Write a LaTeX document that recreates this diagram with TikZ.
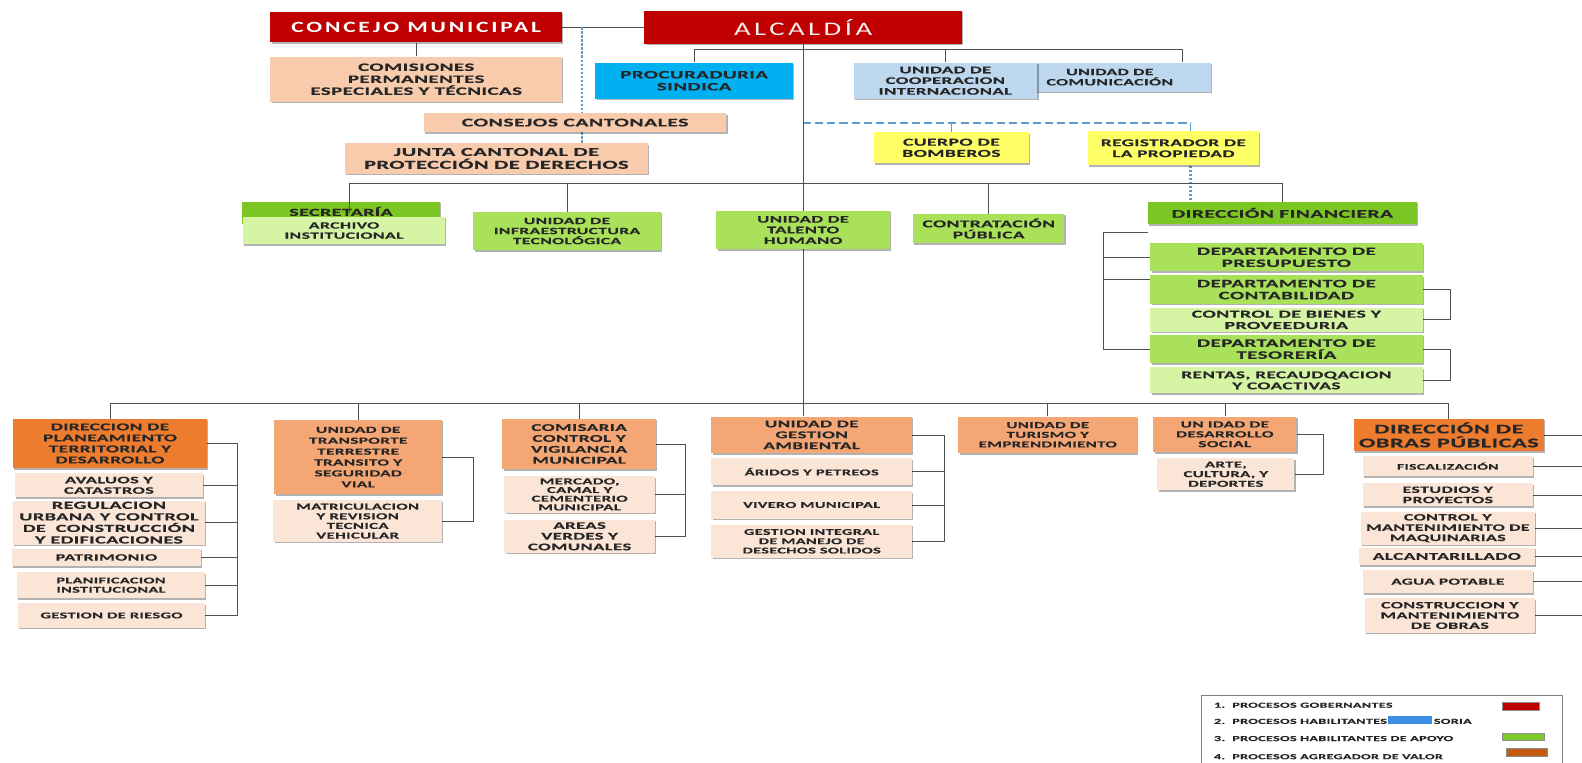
\documentclass[tikz,border=0pt]{standalone}
\usepackage{fontspec}
\usepackage{tikz}
\usetikzlibrary{shadows, backgrounds}

\newfontfamily\orgfont{Carlito}[FakeStretch=1.85, LetterSpace=4, FakeBold=0.5]
\newfontfamily\titlefont{Carlito}[FakeStretch=1.5, LetterSpace=18]

\definecolor{govred}{HTML}{C00000}
\definecolor{peach}{HTML}{F8CBAD}
\definecolor{advblue}{HTML}{00B0F0}
\definecolor{paleblue}{HTML}{BDD7EE}
\definecolor{fireyellow}{HTML}{FFFF66}
\definecolor{darkgreen}{HTML}{7CC623}
\definecolor{midgreen}{HTML}{A9E25A}
\definecolor{palegreen}{HTML}{D5F5A5}
\definecolor{deeporange}{HTML}{EE7C2F}
\definecolor{midorange}{HTML}{F4A775}
\definecolor{paleorange}{HTML}{FBE5D6}
\definecolor{linegray}{HTML}{505050}
\definecolor{dashblue}{HTML}{5B9BD5}
\definecolor{swblue}{HTML}{3D8FE3}
\definecolor{swgreen}{HTML}{7CCB2A}
\definecolor{sworange}{HTML}{C55A11}

\tikzset{
  box/.style={fill=#1, text=black!85, align=center, inner sep=1pt,
    drop shadow={shadow xshift=1.3pt, shadow yshift=-1.5pt, opacity=0.3, fill=black}},
  txt/.style={font=\orgfont\bfseries\fontsize{#1}{\dimexpr #1pt*106/100\relax}\selectfont},
  sz/.style 2 args={minimum width=#1pt, minimum height=#2pt},
  conn/.style={draw=linegray, line width=0.7pt},
  dashline/.style={draw=dashblue, line width=1.6pt, dash pattern=on 8pt off 4pt},
  dotline/.style={draw=dashblue, line width=2.4pt, dash pattern=on 2.5pt off 1.5pt},
  legtext/.style={anchor=west, inner sep=0pt, text=black!85,
    font=\orgfont\bfseries\fontsize{7.6}{8}\selectfont},
  swatch/.style={fill=#1, draw=black!45, line width=0.6pt, inner sep=0pt}
}

\begin{document}
\begin{tikzpicture}[x=1pt, y=-1pt]
    \useasboundingbox (0,0) rectangle (1568,756);

    % Governing level
    \node[box=govred, text=white, font=\titlefont\bfseries\fontsize{15.5}{17}\selectfont, sz={289}{30}] (concejo) at (412.5,27) {CONCEJO MUNICIPAL};
    \node[box=govred, text=gray!12, font=\titlefont\fontsize{19}{22}\selectfont, sz={315}{33}] (alcaldia) at (796,27) {ALCALDÍA};
    \node[box=peach, txt=11.2, sz={289}{45}] (comisiones) at (412.5,78.5) {COMISIONES\\PERMANENTES\\ESPECIALES Y TÉCNICAS};
    \node[box=advblue, txt=11.2, sz={196}{36}] (procuraduria) at (688,80) {PROCURADURIA\\SINDICA};
    \node[box=paleblue, txt=9.5, sz={200}{29}] (comunicacion) at (1100,76.5) {UNIDAD DE\\COMUNICACIÓN};
    \node[box=paleblue, txt=10, sz={182}{36}] (cooperacion) at (937,80) {UNIDAD DE\\COOPERACION\\INTERNACIONAL};
    \node[box=peach, txt=11.6, sz={300}{19}] (consejos) at (570,121.5) {CONSEJOS CANTONALES};
    \node[box=peach, txt=12, sz={300}{30}] (junta) at (492,157) {JUNTA CANTONAL DE\\PROTECCIÓN DE DERECHOS};
    \node[box=fireyellow, txt=10.5, sz={154}{31}] (cuerpo) at (943,146.5) {CUERPO DE\\BOMBEROS};
    \node[box=fireyellow, txt=10.3, sz={170}{34}] (registrador) at (1163,147) {REGISTRADOR DE\\LA PROPIEDAD};

    % Support level
    \node[box=darkgreen, txt=10.7, sz={196}{22}, text depth=3pt] (secretaria) at (338,211) {SECRETARÍA};
    \node[box=palegreen, txt=9.5, sz={200}{27}] (archivo) at (341,228.5) {ARCHIVO\\INSTITUCIONAL};
    \node[box=midgreen, txt=9.4, sz={186}{38}] (infra) at (562,229) {UNIDAD DE\\INFRAESTRUCTURA\\TECNOLÓGICA};
    \node[box=midgreen, txt=10, sz={172}{38}] (talento) at (796,228) {UNIDAD DE\\TALENTO\\HUMANO};
    \node[box=midgreen, txt=10.4, sz={150}{29}] (contratacion) at (980,226.5) {CONTRATACIÓN\\PÚBLICA};
    \node[box=darkgreen, txt=11.5, sz={266}{22}] (finan) at (1271,211) {DIRECCIÓN FINANCIERA};
    \node[box=midgreen, txt=11.2, sz={270}{28}] (presupuesto) at (1275,255) {DEPARTAMENTO DE\\PRESUPUESTO};
    \node[box=midgreen, txt=11.2, sz={270}{28}] (contabilidad) at (1275,287) {DEPARTAMENTO DE\\CONTABILIDAD};
    \node[box=palegreen, txt=10.6, sz={270}{24}] (bienes) at (1275,317) {CONTROL DE BIENES Y\\PROVEEDURIA};
    \node[box=midgreen, txt=11.2, sz={270}{28}] (tesoreria) at (1275,346) {DEPARTAMENTO DE\\TESORERÍA};
    \node[box=palegreen, txt=10.3, sz={270}{26}] (rentas) at (1275,377) {RENTAS, RECAUDQACION\\Y COACTIVAS};

    % Value adding level
    \node[box=deeporange, txt=10.3, sz={192}{49}] (planeamiento) at (109,439.5) {DIRECCION DE\\PLANEAMIENTO\\TERRITORIAL Y\\DESARROLLO};
    \node[box=paleorange, txt=9.8, sz={186}{24}] (avaluos) at (108,481) {AVALUOS Y\\CATASTROS};
    \node[box=paleorange, txt=10.8, sz={190}{42}] (regulacion) at (108,518) {REGULACION\\URBANA Y CONTROL\\DE\ \ CONSTRUCCIÓN\\Y EDIFICACIONES};
    \node[box=paleorange, txt=9.6, sz={187}{17}] (patrimonio) at (105.5,552.5) {PATRIMONIO};
    \node[box=paleorange, txt=8.7, sz={186}{26}] (planificacion) at (110,580) {PLANIFICACION\\INSTITUCIONAL};
    \node[box=paleorange, txt=8.8, sz={185}{24}] (riesgo) at (110.5,610) {GESTION DE RIESGO};

    \node[box=midorange, font=\orgfont\bfseries\fontsize{9.2}{10.8}\selectfont, sz={166}{74}] (transporte) at (355,453) {UNIDAD DE\\TRANSPORTE\\TERRESTRE\\TRANSITO Y\\SEGURIDAD\\VIAL};
    \node[box=paleorange, txt=9, sz={167}{41}] (matriculacion) at (354.5,516.5) {MATRICULACION\\Y REVISION\\TECNICA\\VEHICULAR};

    \node[box=midorange, txt=10.2, sz={152}{50}] (comisaria) at (574,440) {COMISARIA\\CONTROL Y\\VIGILANCIA\\MUNICIPAL};
    \node[box=paleorange, font=\orgfont\bfseries\fontsize{9}{8.6}\selectfont, sz={149}{36}] (mercado) at (574.5,490) {MERCADO,\\CAMAL Y\\CEMENTERIO\\MUNICIPAL};
    \node[box=paleorange, txt=10, sz={149}{33}] (areas) at (574.5,531.5) {AREAS\\VERDES Y\\COMUNALES};

    \node[box=midorange, txt=10.2, sz={199}{36}] (ambiental) at (804.5,431) {UNIDAD DE\\GESTION\\AMBIENTAL};
    \node[box=paleorange, txt=8.8, sz={199}{27}] (aridos) at (804.5,467.5) {ÁRIDOS Y PETREOS};
    \node[box=paleorange, txt=8.7, sz={199}{27}] (vivero) at (804.5,500.5) {VIVERO MUNICIPAL};
    \node[box=paleorange, txt=8.7, sz={199}{33}] (desechos) at (804.5,536.5) {GESTION INTEGRAL\\DE MANEJO DE\\DESECHOS SOLIDOS};

    \node[box=midorange, txt=9, sz={177}{36}] (turismo) at (1038.5,431) {UNIDAD DE\\TURISMO Y\\EMPRENDIMIENTO};
    \node[box=midorange, txt=9.2, sz={142}{35}] (desarrollo) at (1214,430.5) {UN IDAD DE\\DESARROLLO\\SOCIAL};
    \node[box=paleorange, txt=9, sz={136}{32}] (arte) at (1215,470) {ARTE,\\CULTURA, Y\\DEPORTES};

    \node[box=deeporange, txt=13, sz={188}{32}] (obras) at (1436,431) {DIRECCIÓN DE\\OBRAS PÚBLICAS};
    \node[box=paleorange, txt=8.4, sz={168}{20}] (fiscalizacion) at (1435,462) {FISCALIZACIÓN};
    \node[box=paleorange, txt=9.6, sz={168}{23}] (estudios) at (1435,490.5) {ESTUDIOS Y\\PROYECTOS};
    \node[box=paleorange, txt=9.6, sz={172}{33}] (maquinarias) at (1435,523.5) {CONTROL Y\\MANTENIMIENTO DE\\MAQUINARIAS};
    \node[box=paleorange, txt=10.3, sz={174}{17}] (alcantarillado) at (1434,551.5) {ALCANTARILLADO};
    \node[box=paleorange, txt=9.2, sz={168}{23}] (agua) at (1435,576.5) {AGUA POTABLE};
    \node[box=paleorange, txt=9.6, sz={168}{34}] (construccion) at (1437,610) {CONSTRUCCION Y\\MANTENIMIENTO\\DE OBRAS};

    % Connectors behind the boxes
    \begin{pgfonlayer}{background}
    \draw[conn] (concejo.east) -- (alcaldia.west);
    \draw[conn] (concejo.south) -- (comisiones.north);
    \coordinate (dotTop) at (577,27);
    \draw[dotline] (dotTop) -- (dotTop |- junta.north);
    \coordinate (busA) at (796,49);
    \draw[conn] (procuraduria.north) |- (busA) -| ([xshift=-28pt]comunicacion.north east);
    \draw[conn] (cooperacion.north) -- (cooperacion.north |- busA);
    \coordinate (busD) at (796,122);
    \draw[dashline] (busD) -| ([xshift=17pt]registrador.north);
    \draw[dashline] (cuerpo.north) -- (cuerpo.north |- busD);
    \draw[dotline] ([xshift=17pt]registrador.south) -- ([xshift=17pt]registrador.south |- finan.north);
    \draw[conn] (alcaldia.south) -- (alcaldia.south |- ambiental.north);

    \coordinate (busB) at (796,182);
    \draw[conn] (infra.north) -- (infra.north |- busB);
    \draw[conn] (contratacion.north) -- (contratacion.north |- busB);

    % financiera brackets
    \draw[conn] ([yshift=-8pt]finan.south west) -- ++(-44,0) |- (tesoreria.west);
    \draw[conn] (presupuesto.west) -- ++(-46,0);
    \draw[conn] ([yshift=10pt]contabilidad.west) -- ++(-46,0);
    \draw[conn] (contabilidad.east) -- ++(27,0) |- (bienes.east);
    \draw[conn] (tesoreria.east) -- ++(27,0) |- (rentas.east);

    % lower bus
    \coordinate (busC) at (796,400);
    \draw[conn] (planeamiento.north) |- (busC) -| (obras.north);
    \foreach \n in {transporte, comisaria, turismo, desarrollo}
        \draw[conn] (\n.north) -- (\n.north |- busC);

    \draw[conn] (planeamiento.east) -- ++(30,0) coordinate (brA) |- (riesgo.east);
    \foreach \n in {avaluos, regulacion, patrimonio, planificacion}
        \draw[conn] (\n.east) -- (\n.east -| brA);
    \draw[conn] (transporte.east) -- ++(31,0) |- (matriculacion.east);
    \draw[conn] (comisaria.east) -- ++(29,0) coordinate (brC) |- (areas.east);
    \draw[conn] (mercado.east) -- (mercado.east -| brC);
    \draw[conn] (ambiental.east) -- ++(32,0) coordinate (brG) |- (desechos.east);
    \foreach \n in {aridos, vivero}
        \draw[conn] (\n.east) -- (\n.east -| brG);
    \draw[conn] (desarrollo.east) -- ++(26,0) |- (arte.east);
    \coordinate (rim) at (1568,0);
    \foreach \n in {obras, fiscalizacion, estudios, maquinarias, alcantarillado, agua, construccion}
        \draw[conn] (\n.east) -- (\n.east -| rim);
    \end{pgfonlayer}

    % secretaria drop runs over its box
    \draw[conn] ([xshift=8pt]secretaria.center) -- ([xshift=8pt]secretaria.north |- busB) -| (finan.north);

    % Legend
    \node[draw=black!50, line width=0.6pt, anchor=north west, sz={358}{80}] (legend) at (1190,689) {};
    \node[legtext] (leg1) at (1203,699) {1.\ \ PROCESOS GOBERNANTES};
    \node[legtext] (leg2) at (1203,715) {2.\ \ PROCESOS HABILITANTES{\fontsize{6.4}{7}\selectfont\ DE ASE}\kern8pt SORIA};
    \node[legtext] (leg3) at (1203,732) {3.\ \ PROCESOS HABILITANTES DE APOYO};
    \node[legtext] (leg4) at (1203,750) {4.\ \ PROCESOS AGREGADOR DE VALOR};
    \node[swatch=govred, sz={37}{8}] (sw1) at (1507,700) {};
    \node[swatch=swblue, draw=none, sz={43}{8}] (sw2) at (1397.5,714) {};
    \node[swatch=swgreen, sz={42}{7}] (sw3) at (1510,730.5) {};
    \node[swatch=sworange, sz={41}{8}] (sw4) at (1513.5,746) {};
\end{tikzpicture}
\end{document}
